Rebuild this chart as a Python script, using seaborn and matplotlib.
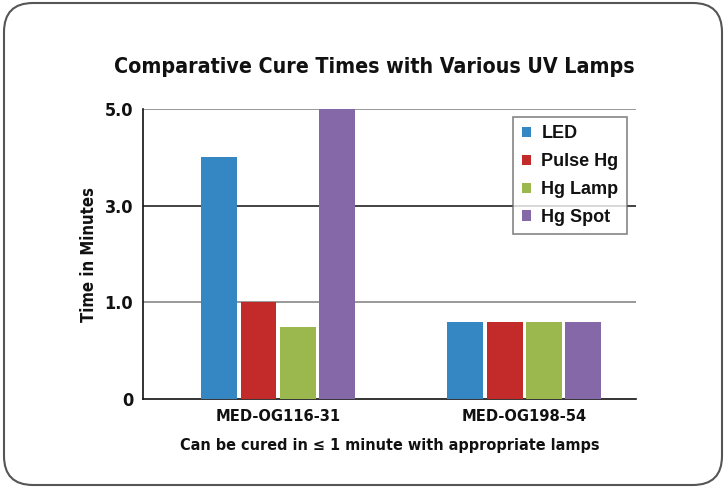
import numpy as np
import pandas as pd
import matplotlib
matplotlib.use("Agg")
import matplotlib.pyplot as plt
from matplotlib.patches import FancyBboxPatch
import seaborn as sns

# data
products = ["MED-OG116-31", "MED-OG198-54"]
lamps = ["LED", "Pulse Hg", "Hg Lamp", "Hg Spot"]
og116_times = [4.0, 1.0, 0.75, 5.0]
og198_times = [0.8, 0.8, 0.8, 0.8]
tick_values = [0, 1.0, 3.0, 5.0]
tick_labels = ["0", "1.0", "3.0", "5.0"]
colors = ["#3587C4", "#C22B2A", "#9BB84F", "#8468A8"]

df = pd.DataFrame({
    "product": [products[0]] * 4 + [products[1]] * 4,
    "lamp": lamps * 2,
    "time": og116_times + og198_times,
})

sns.set_theme(style="white")
plt.rcParams["font.family"] = ["DejaVu Sans"]
plt.rcParams["font.stretch"] = "condensed"
plt.rcParams["font.weight"] = "bold"
plt.rcParams["text.color"] = "#111111"
plt.rcParams["axes.labelcolor"] = "#111111"
plt.rcParams["xtick.color"] = "#111111"
plt.rcParams["ytick.color"] = "#111111"

fig = plt.figure(figsize=(7.27, 4.87), dpi=100)
ax = fig.add_axes([143 / 727, 1 - 399 / 487, (636 - 143) / 727, (399 - 109) / 487])

# outer rounded frame
frame = FancyBboxPatch((4 / 727, 2 / 487), 718 / 727, 482 / 487,
                       boxstyle="round,pad=0,rounding_size=0.04",
                       transform=fig.transFigure, fill=False,
                       edgecolor="#555555", linewidth=1.5, mutation_aspect=727 / 487)
fig.patches.append(frame)

# uneven y axis: 0,1,3,5 spaced evenly
def fwd(v):
    return np.interp(v, [0, 1, 3, 5], [0, 1, 2, 3])

def inv(v):
    return np.interp(v, [0, 1, 2, 3], [0, 1, 3, 5])

ax.set_yscale("function", functions=(fwd, inv))

sns.barplot(data=df, x="product", y="time", hue="lamp", palette=colors,
            width=0.636, gap=0.08, ax=ax, saturation=1, linewidth=0, zorder=3)

ax.set_ylim(0, 5)
ax.set_xlim(-0.549, 1.455)
ax.set_yticks(tick_values)
ax.set_yticklabels(tick_labels, fontsize=13, fontweight="bold")
ax.tick_params(axis="y", length=0, pad=7)
ax.tick_params(axis="x", length=0, pad=7)
for lab in ax.get_xticklabels():
    lab.set_fontsize(11.8)
    lab.set_fontweight("bold")

for v, c in zip([1.0, 3.0, 5.0], ["#888888", "#222222", "#888888"]):
    ax.axhline(v, color=c, linewidth=1.2, zorder=1)

for s in ["top", "right"]:
    ax.spines[s].set_visible(False)
ax.spines["left"].set_color("#111111")
ax.spines["bottom"].set_color("#111111")
ax.spines["left"].set_linewidth(1.2)
ax.spines["bottom"].set_linewidth(1.2)

ax.set_ylabel("Time in Minutes", fontsize=12, fontweight="bold", labelpad=5)
ax.set_xlabel("Can be cured in \u2264 1 minute with appropriate lamps",
              fontsize=11.6, fontweight="bold", labelpad=10)

fig.text(374 / 727, 1 - 67 / 487, "Comparative Cure Times with Various UV Lamps",
         ha="center", va="center", fontsize=15.3, fontweight="bold")

leg = ax.legend(loc="upper right", bbox_to_anchor=(0.992, 0.99), frameon=True,
                fancybox=False, edgecolor="#666666",
                prop={"family": "Liberation Sans", "weight": "bold", "size": 13},
                handlelength=0.5, handleheight=0.5, handletextpad=0.6,
                labelspacing=0.6, borderpad=0.45, borderaxespad=0.3, title=None)
leg.get_frame().set_linewidth(1.2)
leg._legend_box.align = "left"
leg.set_loc("upper right")

fig.savefig("out.png", dpi=100, facecolor="white")
